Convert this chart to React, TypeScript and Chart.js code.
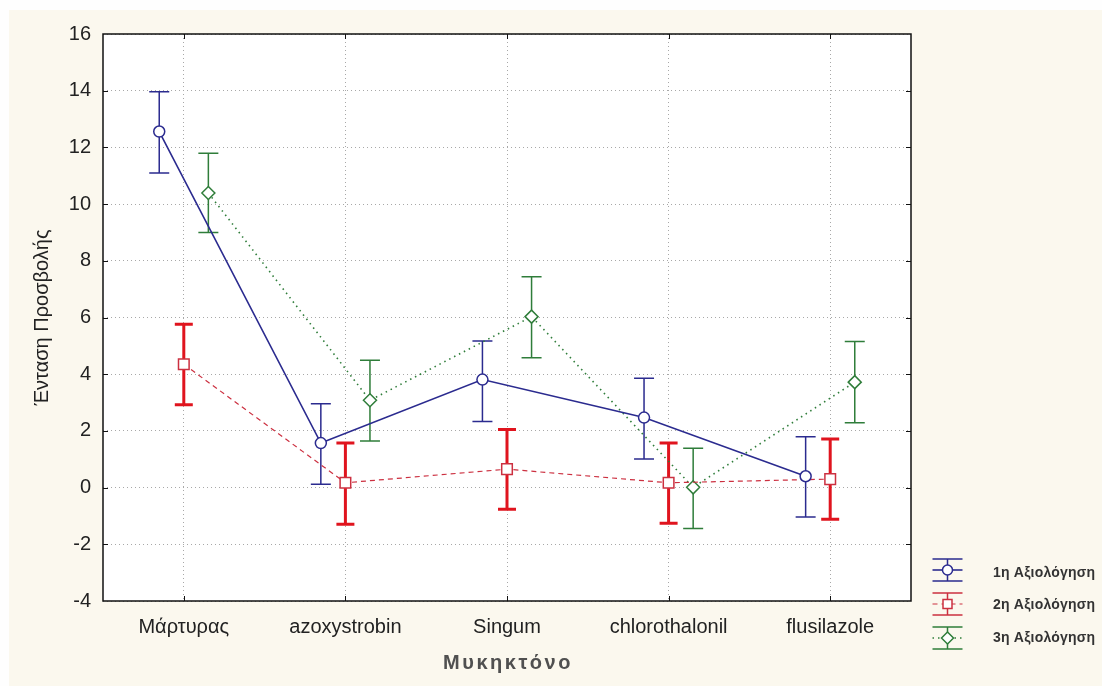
import React, { useEffect, useRef } from 'react';
import { Chart, registerables } from 'chart.js';

Chart.register(...registerables);

// ---- Data ----
const categories = ['Μάρτυρας', 'azoxystrobin', 'Singum', 'chlorothalonil', 'flusilazole'];
const seriesNames = ['1η Αξιολόγηση', '2η Αξιολόγηση', '3η Αξιολόγηση'];

const mean1 = [12.56, 1.57, 3.81, 2.47, 0.4];
const low1 = [11.1, 0.12, 2.33, 1.01, -1.04];
const high1 = [13.96, 2.96, 5.17, 3.86, 1.79];

const mean2 = [4.35, 0.17, 0.65, 0.17, 0.3];
const low2 = [2.92, -1.29, -0.76, -1.26, -1.12];
const high2 = [5.76, 1.57, 2.05, 1.57, 1.71];

const mean3 = [10.39, 3.08, 6.03, 0.01, 3.72];
const low3 = [9.0, 1.64, 4.58, -1.44, 2.29];
const high3 = [11.79, 4.49, 7.44, 1.39, 5.15];

const yMin = -4;
const yMax = 16;
const yStep = 2;

// ---- Styles ----
const FONT = "'Liberation Sans', Arial, sans-serif";
const BLUE = '#2b2b8f';
const RED_LINE = '#cc3040';
const RED_BAR = '#e0141e';
const GREEN = '#2f7d3a';
const CREAM = '#fbf8ee';
const GRID = '#a8a8a8';
const dodge = [-0.152, 0, 0.152];

type SeriesStyle = {
  color: string;
  barColor: string;
  barWidth: number;
  capHalf: number;
  dash: number[];
  lineWidth: number;
  pointStyle: string;
  radius: number;
};

const styles: SeriesStyle[] = [
  { color: BLUE, barColor: BLUE, barWidth: 1.5, capHalf: 10, dash: [], lineWidth: 1.6, pointStyle: 'circle', radius: 5.5 },
  { color: RED_LINE, barColor: RED_BAR, barWidth: 3, capHalf: 9, dash: [5, 4], lineWidth: 1.2, pointStyle: 'rect', radius: 7.5 },
  { color: GREEN, barColor: GREEN, barWidth: 1.5, capHalf: 10, dash: [1.5, 4], lineWidth: 1.6, pointStyle: 'rectRot', radius: 6.5 },
];

const means = [mean1, mean2, mean3];
const lows = [low1, low2, low3];
const highs = [high1, high2, high3];

const errorBarPlugin = {
  id: 'errorBars',
  beforeDatasetsDraw(chart: any) {
    const ctx = chart.ctx;
    const yScale = chart.scales.y;
    ctx.save();
    means.forEach((_, d) => {
      const meta = chart.getDatasetMeta(d);
      const st = styles[d];
      ctx.strokeStyle = st.barColor;
      ctx.lineWidth = st.barWidth;
      ctx.setLineDash([]);
      meta.data.forEach((el: any, i: number) => {
        const x = el.x;
        const yl = yScale.getPixelForValue(lows[d][i]);
        const yh = yScale.getPixelForValue(highs[d][i]);
        ctx.beginPath();
        ctx.moveTo(x, yl);
        ctx.lineTo(x, yh);
        ctx.moveTo(x - st.capHalf, yl);
        ctx.lineTo(x + st.capHalf, yl);
        ctx.moveTo(x - st.capHalf, yh);
        ctx.lineTo(x + st.capHalf, yh);
        ctx.stroke();
      });
    });
    ctx.restore();
  },
};

const backgroundPlugin = {
  id: 'bgFrame',
  beforeDraw(chart: any) {
    const { ctx, chartArea: a, width, height } = chart;
    ctx.save();
    ctx.fillStyle = '#fefefe';
    ctx.fillRect(0, 0, width, height);
    ctx.fillStyle = CREAM;
    ctx.fillRect(9, 10, width - 9, height - 10);
    ctx.fillStyle = '#ffffff';
    ctx.fillRect(a.left, a.top, a.right - a.left, a.bottom - a.top);
    ctx.restore();
  },
  afterDraw(chart: any) {
    const { ctx, chartArea: a } = chart;
    const yScale = chart.scales.y;
    const xScale = chart.scales.x;
    ctx.save();
    ctx.strokeStyle = '#111';
    ctx.lineWidth = 1.5;
    ctx.setLineDash([]);
    ctx.strokeRect(a.left, a.top, a.right - a.left, a.bottom - a.top);
    ctx.lineWidth = 1;
    ctx.beginPath();
    for (let v = yMin + yStep; v < yMax; v += yStep) {
      const y = Math.round(yScale.getPixelForValue(v)) + 0.5;
      ctx.moveTo(a.left, y);
      ctx.lineTo(a.left + 5, y);
      ctx.moveTo(a.right - 5, y);
      ctx.lineTo(a.right, y);
    }
    categories.forEach((_, i) => {
      const x = Math.round(xScale.getPixelForValue(i)) + 0.5;
      ctx.moveTo(x, a.top);
      ctx.lineTo(x, a.top + 5);
      ctx.moveTo(x, a.bottom - 5);
      ctx.lineTo(x, a.bottom);
    });
    ctx.stroke();

    // x title
    ctx.fillStyle = '#505050';
    ctx.font = `bold 20px ${FONT}`;
    (ctx as any).letterSpacing = '2.5px';
    ctx.textAlign = 'center';
    ctx.textBaseline = 'middle';
    ctx.fillText('Μυκηκτόνο', (a.left + a.right) / 2 + 1, 663);

    // legend
    (ctx as any).letterSpacing = '0.2px';
    const gx = 947.5;
    const rows = [570, 604, 638];
    seriesNames.forEach((name, d) => {
      const st = styles[d];
      const cy = rows[d];
      ctx.strokeStyle = st.color;
      ctx.lineWidth = 1.5;
      ctx.setLineDash([]);
      ctx.beginPath();
      ctx.moveTo(gx, cy - 11);
      ctx.lineTo(gx, cy + 11);
      ctx.moveTo(gx - 15, cy - 11);
      ctx.lineTo(gx + 15, cy - 11);
      ctx.moveTo(gx - 15, cy + 11);
      ctx.lineTo(gx + 15, cy + 11);
      ctx.stroke();
      ctx.setLineDash(st.dash);
      ctx.lineWidth = st.lineWidth;
      ctx.beginPath();
      ctx.moveTo(gx - 15, cy);
      ctx.lineTo(gx + 15, cy);
      ctx.stroke();
      ctx.setLineDash([]);
      ctx.fillStyle = '#ffffff';
      ctx.strokeStyle = st.color;
      ctx.lineWidth = 1.5;
      ctx.beginPath();
      if (st.pointStyle === 'circle') {
        ctx.arc(gx, cy, 5, 0, Math.PI * 2);
      } else if (st.pointStyle === 'rect') {
        ctx.rect(gx - 4.5, cy - 4.5, 9, 9);
      } else {
        ctx.moveTo(gx, cy - 6);
        ctx.lineTo(gx + 6, cy);
        ctx.lineTo(gx, cy + 6);
        ctx.lineTo(gx - 6, cy);
        ctx.closePath();
      }
      ctx.fill();
      ctx.stroke();
      ctx.fillStyle = '#333333';
      ctx.font = `bold 14px ${FONT}`;
      ctx.textAlign = 'left';
      ctx.textBaseline = 'middle';
      ctx.fillText(name, 993, cy + 3 - d * 1.5);
    });
    (ctx as any).letterSpacing = '0px';
    ctx.restore();
  },
};

export default function App() {
  const canvasRef = useRef<HTMLCanvasElement | null>(null);

  useEffect(() => {
    document.body.style.margin = '0';
    const canvas = canvasRef.current;
    if (!canvas) return;

    const datasets = means.map((m, d) => {
      const st = styles[d];
      return {
        label: seriesNames[d],
        data: m.map((v, i) => ({ x: i + dodge[d], y: v })),
        borderColor: st.color,
        backgroundColor: '#ffffff',
        borderWidth: st.lineWidth,
        borderDash: st.dash,
        pointStyle: st.pointStyle,
        pointRadius: st.radius,
        pointBorderWidth: 1.5,
        pointBorderColor: st.color,
        pointBackgroundColor: '#ffffff',
        tension: 0,
        fill: false,
      };
    });

    const chart = new Chart(canvas, {
      type: 'line',
      data: { datasets } as any,
      plugins: [backgroundPlugin, errorBarPlugin],
      options: {
        animation: false,
        responsive: false,
        maintainAspectRatio: false,
        layout: { padding: { left: 0, top: 34, right: 191, bottom: 0 } },
        plugins: {
          legend: { display: false },
          tooltip: { enabled: false },
        },
        scales: {
          x: {
            type: 'linear',
            min: -0.5,
            max: 4.5,
            afterBuildTicks: (scale: any) => {
              scale.ticks = categories.map((_, i) => ({ value: i }));
            },
            afterFit: (scale: any) => {
              scale.height = 85;
            },
            ticks: {
              autoSkip: false,
              maxRotation: 0,
              padding: 14,
              color: '#222222',
              font: { family: FONT, size: 20 },
              callback: (v: any) => categories[Math.round(Number(v))] ?? '',
            },
            grid: { color: GRID, lineWidth: 1, drawTicks: false },
            border: { display: false, dash: [1, 3] },
          },
          y: {
            min: yMin,
            max: yMax,
            afterFit: (scale: any) => {
              scale.width = 103;
            },
            ticks: {
              stepSize: yStep,
              padding: 12,
              color: '#222222',
              font: { family: FONT, size: 20 },
            },
            grid: { color: GRID, lineWidth: 1, drawTicks: false },
            border: { display: false, dash: [1, 3] },
            title: {
              display: true,
              text: 'Ένταση Προσβολής',
              color: '#222222',
              font: { family: FONT, size: 20 },
              padding: { top: 30, bottom: 0 },
            },
          },
        },
      } as any,
    });

    return () => chart.destroy();
  }, []);

  return (
    <div style={{ position: 'fixed', left: 0, top: 0, width: 1102, height: 686 }}>
      <canvas ref={canvasRef} width={1102} height={686} style={{ width: 1102, height: 686 }} />
    </div>
  );
}
